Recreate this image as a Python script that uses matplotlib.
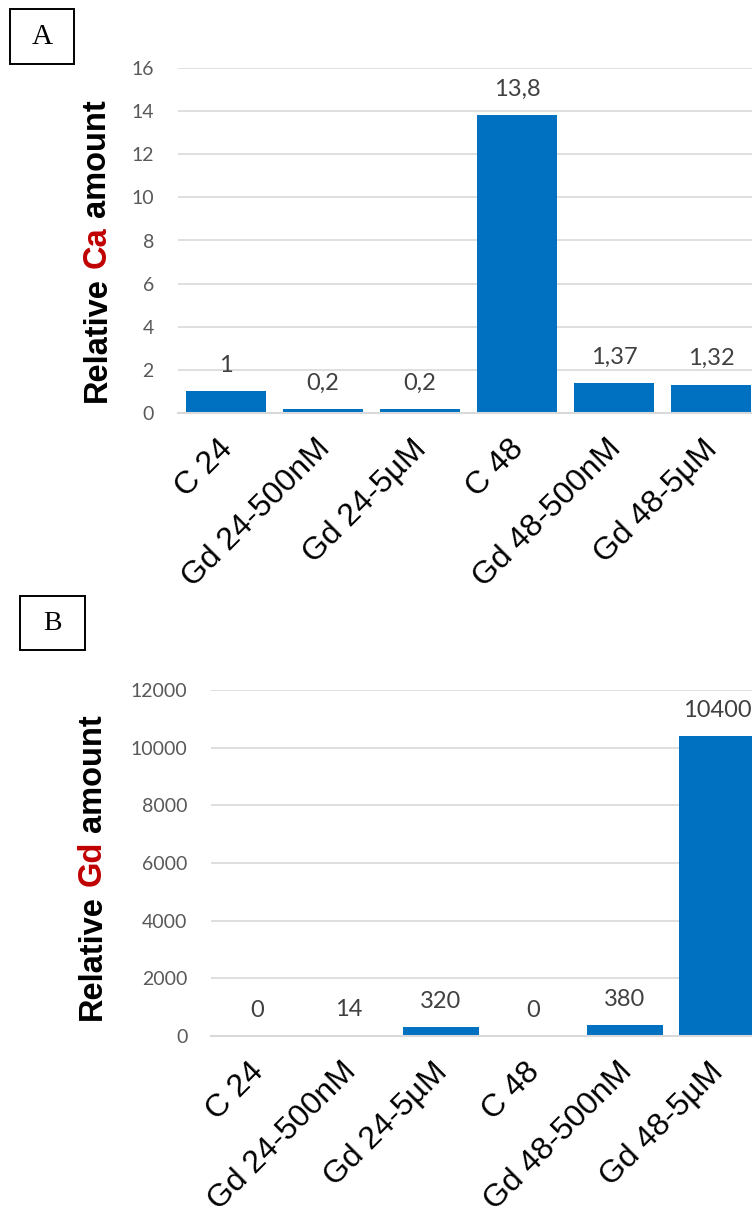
import matplotlib
matplotlib.use("Agg")
import matplotlib.pyplot as plt
from matplotlib.patches import Rectangle

# data
categories = ["C 24", "Gd 24-500nM", "Gd 24-5µM", "C 48", "Gd 48-500nM", "Gd 48-5µM"]
ca_values = [1, 0.2, 0.2, 13.8, 1.37, 1.32]
gd_values = [0, 14, 320, 0, 380, 10400]
ca_ticks = [0, 2, 4, 6, 8, 10, 12, 14, 16]
gd_ticks = [0, 2000, 4000, 6000, 8000, 10000, 12000]

W, H = 752, 1206
BLUE = "#0070C0"
GRID = "#d9d9d9"
TICK_COLOR = "#595959"
VAL_COLOR = "#404040"
RED = "#C00000"

fig = plt.figure(figsize=(W / 100, H / 100), dpi=100)


def px_axes(left, top, right, bottom):
    # axes placed by pixel edges (top-left origin)
    return fig.add_axes([left / W, 1 - bottom / H, (right - left) / W, (bottom - top) / H])


def draw_panel(ax, values, ticks):
    x = range(len(values))
    ax.bar(x, values, width=0.83, color=BLUE, zorder=3)
    ax.set_xlim(-0.5, len(values) - 0.5)
    ax.set_ylim(ticks[0], ticks[-1])
    ax.set_yticks(ticks)
    ax.set_yticklabels([str(t) for t in ticks], fontsize=14, color=TICK_COLOR, family="Lato")
    ax.set_xticks(list(x))
    ax.set_xticklabels([])
    # slanted category names hanging from the baseline
    for i, name in enumerate(categories):
        ax.annotate(name, (i, 0), xycoords=("data", "axes fraction"),
                    xytext=(-6, -15), textcoords="offset points",
                    rotation=45, ha="right", va="top", rotation_mode="anchor",
                    fontsize=23, family="Liberation Sans", annotation_clip=False)
    ax.tick_params(axis="y", length=0, pad=17)
    ax.tick_params(axis="x", length=0)
    ax.grid(axis="y", color=GRID, lw=1.2, zorder=0)
    for s in ["top", "right", "left"]:
        ax.spines[s].set_visible(False)
    ax.spines["bottom"].set_color(GRID)
    ax.spines["bottom"].set_linewidth(1.5)
    ax.spines["bottom"].set_zorder(4)
    for i, v in enumerate(values):
        ax.annotate(f"{v:g}".replace(".", ","), (i, v), xytext=(0, 18.5),
                    textcoords="offset points", ha="center", va="center",
                    fontsize=17, color=VAL_COLOR, family="Lato")


def ylabel_parts(xc, ybottom, parts, size=23.5):
    # stack rotated pieces bottom-to-top so the element name can be coloured
    renderer = fig.canvas.get_renderer()
    y = H - ybottom
    gap = 0.278 * size * 100 / 72
    for txt, col in parts:
        t = fig.text(xc / W, y / H, txt, rotation=90, ha="center", va="bottom",
                     fontsize=size, fontweight="bold", color=col, family="Liberation Sans")
        bb = t.get_window_extent(renderer)
        y += bb.height + gap


def panel_tag(x0, y0, x1, y1, letter, size=21):
    fig.patches.append(Rectangle((x0 / W, 1 - y1 / H), (x1 - x0) / W, (y1 - y0) / H,
                                 transform=fig.transFigure, fill=True, fc="white",
                                 ec="black", lw=1.4))
    fig.text((x0 + x1) / 2 / W, 1 - (y0 + y1) / 2 / H, letter, ha="center", va="center",
             fontsize=size, family="Liberation Serif")


ax_a = px_axes(177.5, 68, 759.5, 413)
draw_panel(ax_a, ca_values, ca_ticks)

ax_b = px_axes(211, 690, 763, 1036)
draw_panel(ax_b, gd_values, gd_ticks)

fig.canvas.draw()
ylabel_parts(97, 402, [("Relative", "black"), ("Ca", RED), ("amount", "black")])
ylabel_parts(92, 1020, [("Relative", "black"), ("Gd", RED), ("amount", "black")])

panel_tag(10, 9, 74, 64, "A")
panel_tag(20, 596, 85, 650, "B", size=20)

fig.savefig("out.png", dpi=100)
